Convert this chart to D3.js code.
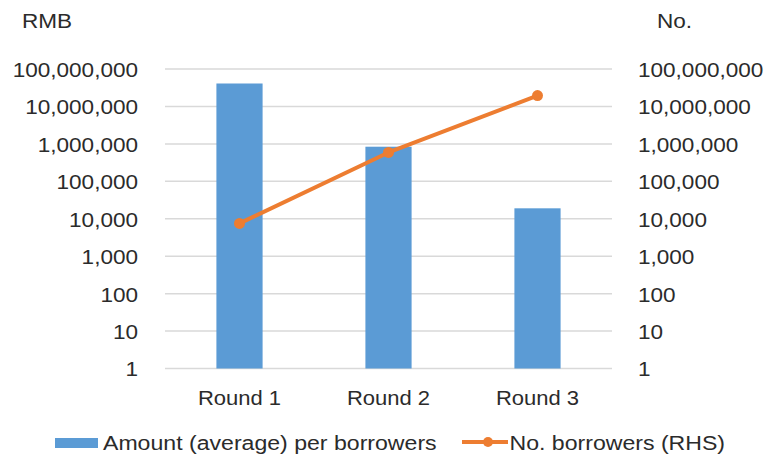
<!DOCTYPE html>
<html>
<head>
<meta charset="utf-8">
<script src="https://cdn.jsdelivr.net/npm/d3@7"></script>
<style>
  html, body { margin: 0; padding: 0; background: #fff; }
  svg { display: block; font-family: "Liberation Sans", Arial, sans-serif; }
</style>
</head>
<body>
<svg id="chart" width="768" height="457"></svg>
<script>
const categories = ["Round 1", "Round 2", "Round 3"];
const amountPerBorrower = [41000000, 840000, 19000];
const numBorrowers = [7500, 590000, 19500000];
const tickValues = [1, 10, 100, 1000, 10000, 100000, 1000000, 10000000, 100000000];
const leftTitle = "RMB";
const rightTitle = "No.";
const seriesNames = ["Amount (average) per borrowers", "No. borrowers (RHS)"];

const barColor = "#5B9BD5";
const lineColor = "#ED7D31";
const textColor = "#2b2b2b";
const gridColor = "#D9D9D9";
const SX = 1.1;

const svg = d3.select("#chart");
const plot = { left: 165, right: 612, top: 69, bottom: 368.5 };

const x = d3.scaleBand().domain(categories).range([plot.left, plot.right])
  .paddingInner(0.69).paddingOuter(0.345);
const yL = d3.scaleLog().domain([1, 1e8]).range([plot.bottom, plot.top]);
const yR = d3.scaleLog().domain([1, 1e8]).range([plot.bottom, plot.top]);
const fmt = d3.format(",");

// gridlines
svg.append("g").selectAll("line").data(tickValues).join("line")
  .attr("x1", plot.left).attr("x2", plot.right)
  .attr("y1", d => yL(d)).attr("y2", d => yL(d))
  .attr("stroke", gridColor).attr("stroke-width", 1.5);

// left axis
const gL = svg.append("g").attr("transform", `translate(${plot.left},0)`)
  .call(d3.axisLeft(yL).tickValues(tickValues).tickFormat(fmt).tickSize(0).tickPadding(0));
gL.select(".domain").remove();
gL.attr("font-family", null).attr("font-size", null);
gL.selectAll("text")
  .attr("x", -27 / SX).attr("dy", "0.36em")
  .attr("transform", `scale(${SX},1)`)
  .attr("fill", textColor).style("font-size", "20.5px");

// right axis
const gR = svg.append("g").attr("transform", `translate(${plot.right},0)`)
  .call(d3.axisRight(yR).tickValues(tickValues).tickFormat(fmt).tickSize(0).tickPadding(0));
gR.select(".domain").remove();
gR.attr("font-family", null).attr("font-size", null);
gR.selectAll("text")
  .attr("x", 26 / SX).attr("dy", "0.36em")
  .attr("transform", `scale(${SX},1)`)
  .attr("fill", textColor).style("font-size", "20.5px");

// bars
svg.append("g").selectAll("rect").data(amountPerBorrower).join("rect")
  .attr("x", (d, i) => x(categories[i]))
  .attr("width", x.bandwidth())
  .attr("y", d => yL(d))
  .attr("height", d => plot.bottom - yL(d))
  .attr("fill", barColor);

// line
const line = d3.line()
  .x((d, i) => x(categories[i]) + x.bandwidth() / 2)
  .y(d => yR(d));
svg.append("path").datum(numBorrowers)
  .attr("d", line).attr("fill", "none")
  .attr("stroke", lineColor).attr("stroke-width", 4)
  .attr("stroke-linejoin", "round").attr("stroke-linecap", "round");
svg.append("g").selectAll("circle").data(numBorrowers).join("circle")
  .attr("cx", (d, i) => x(categories[i]) + x.bandwidth() / 2)
  .attr("cy", d => yR(d)).attr("r", 5.5).attr("fill", lineColor);

// x axis labels
const gX = svg.append("g").attr("transform", `translate(0,${plot.bottom})`)
  .call(d3.axisBottom(x).tickSize(0).tickPadding(0));
gX.select(".domain").remove();
gX.attr("font-family", null).attr("font-size", null);
gX.selectAll("text").attr("y", 36.5).attr("dy", null)
  .attr("transform", `scale(${SX},1)`)
  .attr("fill", textColor).style("font-size", "20px");

// axis titles
svg.append("text").attr("x", 22 / SX).attr("y", 28).attr("transform", `scale(${SX},1)`)
  .attr("fill", textColor).style("font-size", "20.5px").text(leftTitle);
svg.append("text").attr("x", 657 / SX).attr("y", 28).attr("transform", `scale(${SX},1)`)
  .attr("fill", textColor).style("font-size", "20.5px").text(rightTitle);

// legend
const leg = svg.append("g");
leg.append("rect").attr("x", 55).attr("y", 438).attr("width", 43).attr("height", 10).attr("fill", barColor);
leg.append("text").attr("x", 103 / SX).attr("y", 450).attr("transform", `scale(${SX},1)`)
  .attr("fill", textColor).style("font-size", "21px").text(seriesNames[0]);
leg.append("line").attr("x1", 462).attr("x2", 508).attr("y1", 442).attr("y2", 442)
  .attr("stroke", lineColor).attr("stroke-width", 4);
leg.append("circle").attr("cx", 488).attr("cy", 442).attr("r", 5).attr("fill", lineColor);
leg.append("text").attr("x", 509.5 / SX).attr("y", 450).attr("transform", `scale(${SX},1)`)
  .attr("fill", textColor).style("font-size", "21px").text(seriesNames[1]);
</script>
</body>
</html>
